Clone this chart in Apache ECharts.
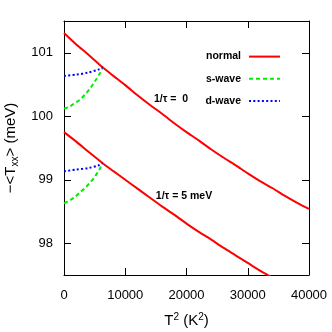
<!DOCTYPE html>
<html><head><meta charset="utf-8">
<script src="https://cdn.jsdelivr.net/npm/echarts@6/dist/echarts.min.js"></script>
<style>html,body{margin:0;padding:0;background:#fff}#c{width:332px;height:332px}</style>
</head><body><div id="c"></div>
<script>
// T^2 (K^2) sample positions for the normal-state curves
const normalT2 = [0, 2000, 4000, 6318, 8000, 10000, 12000, 14000, 16000, 18000, 20000, 22000, 24000, 26000, 28000, 30000, 32000, 34000, 36000, 38000, 40000];
const normalClean = [101.31, 101.13, 100.97, 100.77, 100.64, 100.49, 100.33, 100.18, 100.04, 99.89, 99.75, 99.62, 99.48, 99.35, 99.23, 99.10, 98.98, 98.87, 98.75, 98.64, 98.54];
const normalDirty = [99.75, 99.60, 99.44, 99.26, 99.14, 99.00, 98.86, 98.72, 98.58, 98.45, 98.31, 98.18, 98.06, 97.93, 97.81, 97.69, 97.57, 97.46, 97.35, 97.24, 97.13];
// superconducting branches
const sWaveT2 = [0, 900, 1800, 2600, 3430, 4200, 5060, 5880, 6318];
const sWaveClean = [100.12, 100.15, 100.21, 100.26, 100.34, 100.43, 100.55, 100.68, 100.77];
const sWaveDirty = [98.63, 98.675, 98.73, 98.80, 98.87, 98.95, 99.05, 99.18, 99.26];
const dWaveT2 = [0, 2000, 4000, 5600, 6318];
const dWaveClean = [100.635, 100.655, 100.69, 100.735, 100.77];
const dWaveDirty = [99.135, 99.16, 99.185, 99.225, 99.26];
const yTicks = [98, 99, 100, 101];
const seriesNames = ['normal', 's-wave', 'd-wave'];
const annotations = ['1/\u03c4 =  0', '1/\u03c4 = 5 meV'];

const zip = (xs, ys) => xs.map((x, i) => [x, ys[i]]);
const FONT = '"Liberation Sans", Arial, Helvetica, sans-serif';

const chart = echarts.init(document.getElementById('c'), null, {renderer: 'canvas'});
const lineSeries = (name, data, color, type, smooth) => ({
  name, type: 'line', data, symbol: 'none', showSymbol: false, clip: true,
  xAxisIndex: 0, yAxisIndex: 0, animation: false, smooth,
  lineStyle: {color, width: 2, type},
  itemStyle: {color}
});
chart.setOption({
  animation: false,
  backgroundColor: '#fff',
  grid: {left: 64, right: 23, top: 21, bottom: 57, show: false, containLabel: false, outerBoundsMode: 'none'},
  xAxis: [{
    type: 'value', position: 'bottom', min: 0, max: 40000, interval: 10000,
    axisLine: {show: true, onZero: false, lineStyle: {color: '#000', width: 1}},
    axisTick: {show: true, inside: true, length: 7, lineStyle: {color: '#000'}},
    axisLabel: {show: true, color: '#000', fontSize: 13, fontFamily: FONT, margin: 14,
      formatter: v => String(v)},
    splitLine: {show: false},
    name: 'T{sup|2} (K{sup|2})', nameLocation: 'middle', nameGap: 37,
    nameTextStyle: {color: '#000', fontSize: 15, fontFamily: FONT, lineHeight: 18,
      rich: {sup: {fontSize: 10, fontFamily: FONT, color: '#000', verticalAlign: 'top', lineHeight: 18}}}
  }, {
    type: 'value', position: 'top', min: 0, max: 40000, interval: 10000,
    axisLine: {show: true, onZero: false, lineStyle: {color: '#000', width: 1}},
    axisTick: {show: true, inside: true, length: 7, lineStyle: {color: '#000'}},
    axisLabel: {show: false}, splitLine: {show: false}
  }],
  yAxis: [{
    type: 'value', position: 'left', min: 97.5, max: 101.5,
    axisLine: {show: true, onZero: false, lineStyle: {color: '#000', width: 1}},
    axisTick: {show: true, inside: true, length: 7, customValues: yTicks, lineStyle: {color: '#000'}},
    axisLabel: {show: true, customValues: yTicks, color: '#000', fontSize: 13, fontFamily: FONT, margin: 11},
    splitLine: {show: false},
    name: '\u2212<T{sub|xx}> (meV)', nameLocation: 'middle', nameGap: 40, nameRotate: 90,
    nameTextStyle: {color: '#000', fontSize: 15, fontFamily: FONT, lineHeight: 20,
      rich: {sub: {fontSize: 10, fontFamily: FONT, color: '#000', verticalAlign: 'bottom', lineHeight: 13}}}
  }, {
    type: 'value', position: 'right', min: 97.5, max: 101.5,
    axisLine: {show: true, onZero: false, lineStyle: {color: '#000', width: 1}},
    axisTick: {show: true, inside: true, length: 7, customValues: yTicks, lineStyle: {color: '#000'}},
    axisLabel: {show: false}, splitLine: {show: false}
  }],
  legend: {
    orient: 'vertical', right: 46, top: 46, align: 'right',
    itemWidth: 31, itemHeight: 14, itemGap: 11,
    data: seriesNames,
    itemStyle: {opacity: 0, borderWidth: 0},
    textStyle: {color: '#000', fontSize: 10.5, fontWeight: 'bold', fontFamily: FONT, padding: [0, 3, 0, 0]}
  },
  graphic: [
    {type: 'text', x: 171, y: 99, style: {text: annotations[0], fill: '#000', font: 'bold 10.5px ' + FONT, textAlign: 'center', textVerticalAlign: 'middle'}},
    {type: 'text', x: 184, y: 196, style: {text: annotations[1], fill: '#000', font: 'bold 10.5px ' + FONT, textAlign: 'center', textVerticalAlign: 'middle'}}
  ],
  series: [
    lineSeries(seriesNames[0], zip(normalT2, normalClean), '#ff0000', 'solid', 0.25),
    lineSeries(seriesNames[0], zip(normalT2, normalDirty), '#ff0000', 'solid', 0.25),
    lineSeries(seriesNames[1], zip(sWaveT2, sWaveClean), '#00ee00', [4, 3], 0.3),
    lineSeries(seriesNames[1], zip(sWaveT2, sWaveDirty), '#00ee00', [4, 3], 0.3),
    lineSeries(seriesNames[2], zip(dWaveT2, dWaveClean), '#0000ff', [2, 2.3], 0.3),
    lineSeries(seriesNames[2], zip(dWaveT2, dWaveDirty), '#0000ff', [2, 2.3], 0.3)
  ]
});
</script></body></html>
